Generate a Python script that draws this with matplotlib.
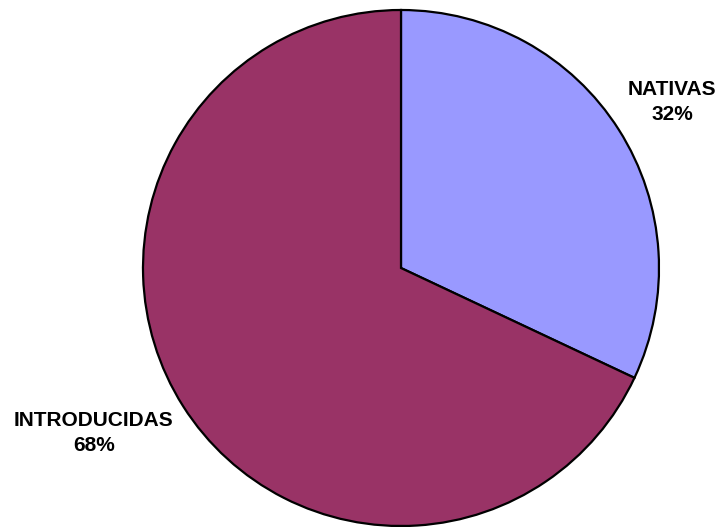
import matplotlib.pyplot as plt

labels = ['NATIVAS', 'INTRODUCIDAS']
shares = [32, 68]
colors = ['#9999FF', '#993366']

fig = plt.figure(figsize=(7.2, 5.27), dpi=100)
ax = fig.add_axes([143 / 720, 1 / 527, 516 / 720, 516 / 527])

ax.pie(shares, colors=colors, startangle=90, counterclock=False, radius=1,
       wedgeprops=dict(edgecolor='black', linewidth=1.6))
ax.set_xlim(-1, 1)
ax.set_ylim(-1, 1)
ax.set_aspect('equal')
ax.axis('off')

# label positions in pie coordinates
label_pos = [(1.05, 0.645), (-1.19, -0.64)]
for lab, val, (x, y) in zip(labels, shares, label_pos):
    ax.text(x, y, f"{lab}\n{val}%", ha='center', va='center', fontsize=15,
            fontweight='bold', family='Liberation Sans', linespacing=1.4,
            clip_on=False)

fig.savefig('out.png', dpi=100)
